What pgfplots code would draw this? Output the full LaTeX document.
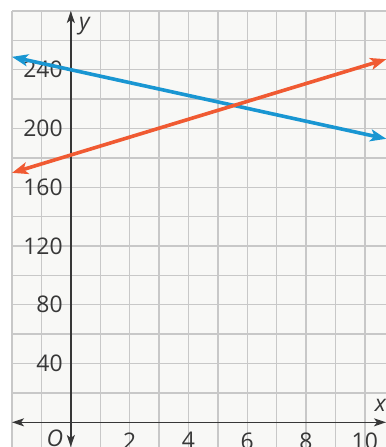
\documentclass[border=0pt]{standalone}
\usepackage{pgfplots}
\pgfplotsset{compat=1.18}
\usepackage{fontspec}
\setmainfont{Open Sans}
\usetikzlibrary{arrows.meta}
\definecolor{gridc}{RGB}{200,200,200}
\definecolor{bgc}{RGB}{248,248,246}
\definecolor{axc}{RGB}{55,55,55}
\definecolor{blueL}{RGB}{25,150,210}
\definecolor{orangeL}{RGB}{240,90,50}
\begin{document}
\begin{tikzpicture}
\begin{axis}[
  scale only axis, width=374bp, height=436bp,
  xmin=-2, xmax=10.72, ymin=-16.8, ymax=280,
  axis lines=middle,
  x axis line style={axc, line width=1.6bp, arrows={Stealth[length=12bp,width=8bp,inset=3bp]-Stealth[length=12bp,width=8bp,inset=3bp]}},
  y axis line style={axc, line width=1.6bp, arrows={Stealth[length=12bp,width=8bp,inset=3bp]-Stealth[length=12bp,width=8bp,inset=3bp]}},
  axis background/.style={fill=bgc},
  xtick={2,4,6,8,10}, xticklabels={2,4,6,8,10},
  ytick={40,80,120,160,200,240}, yticklabels={40,80,120,160,200,240},
  minor xtick={-2,-1,...,10}, minor ytick={0,20,...,280},
  grid=both,
  major grid style={gridc, line width=1.4bp},
  minor grid style={gridc, line width=1.4bp},
  major tick length=0pt, minor tick length=0pt,
  tick style={draw=none},
  /pgf/number format/assume math mode=true,
  ticklabel style={font=\fontsize{23}{27}\selectfont, text=axc, inner sep=0pt},
  xticklabel style={anchor=north, yshift=-10bp},
  yticklabel style={anchor=east, xshift=-8bp},
  clip=false,
]
\addplot[blueL, line width=3.6bp, arrows={Stealth[length=16bp,width=12bp,inset=4bp]-Stealth[length=16bp,width=12bp,inset=4bp]}]
  coordinates {(-2,248.8) (10.73,193)};
\addplot[orangeL, line width=3.6bp, arrows={Stealth[length=16bp,width=12bp,inset=4bp]-Stealth[length=16bp,width=12bp,inset=4bp]}]
  coordinates {(-2,169.8) (10.73,247.2)};
\node[font=\fontsize{23}{27}\selectfont\itshape, text=axc] at (axis cs:0.46,270) {y};
\node[font=\fontsize{23}{27}\selectfont\itshape, text=axc] at (axis cs:10.53,11.5) {x};
\node[font=\fontsize{23}{27}\selectfont\itshape, text=axc] at (axis cs:-0.54,-10.7) {O};
\end{axis}
\pgfresetboundingbox
\path[use as bounding box] ([xshift=-12bp]current axis.south west) rectangle ([yshift=11bp]current axis.north east);
\end{tikzpicture}
\end{document}
